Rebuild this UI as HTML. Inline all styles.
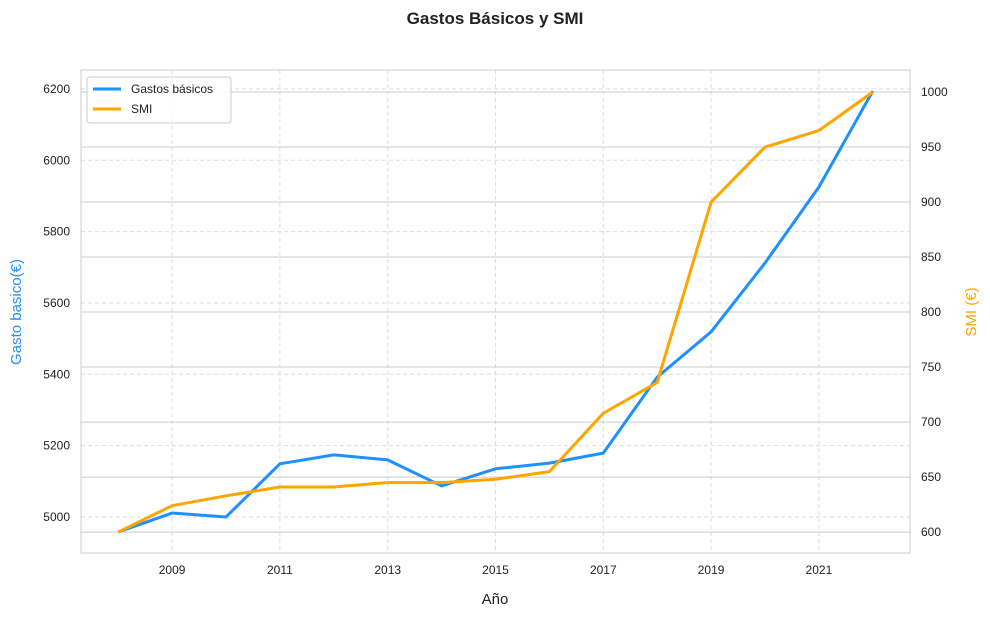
<!DOCTYPE html>
<html><head><meta charset="utf-8"><style>
body{margin:0;background:#fff;}
svg text{font-family:"Liberation Sans",Arial,sans-serif;}
</style></head><body>
<svg id="chart" width="990" height="617" xmlns="http://www.w3.org/2000/svg">
<text x="495" y="24" text-anchor="middle" font-size="17" font-weight="bold" fill="#222">Gastos Básicos y SMI</text>
<g id="grid"></g>
<g id="axes"></g>
<g id="lines"></g>
<rect x="81" y="70" width="829" height="483" fill="none" stroke="#ccc" stroke-width="1"/>
<text x="495" y="604" text-anchor="middle" font-size="15" fill="#222">Año</text>
<text transform="translate(21,312) rotate(-90)" text-anchor="middle" font-size="15" fill="#1e90ff">Gasto basico(€)</text>
<text transform="translate(976,312) rotate(-90)" text-anchor="middle" font-size="15" fill="#ffa500">SMI (€)</text>
<g>
<rect x="87" y="77" width="144" height="46" rx="3" fill="#fff" fill-opacity="0.85" stroke="#ccc"/>
<line x1="93" y1="89" x2="121" y2="89" stroke="#1e90ff" stroke-width="3"/>
<text x="131" y="93" font-size="12" fill="#222">Gastos básicos</text>
<line x1="93" y1="109" x2="121" y2="109" stroke="#ffa500" stroke-width="3"/>
<text x="131" y="113" font-size="12" fill="#222">SMI</text>
</g>
</svg>
<script>
const years=[2008,2009,2010,2011,2012,2013,2014,2015,2016,2017,2018,2019,2020,2021,2022];
const gastos=[4958,5011,5000,5149,5174,5160,5087,5135,5151,5179,5392,5519,5712,5925,6194];
const smi=[600,624,633,641,641,645,645,648,655,708,736,900,950,965,1000];
const xTicks=[2009,2011,2013,2015,2017,2019,2021];
const leftTicks=[5000,5200,5400,5600,5800,6000,6200];
const rightTicks=[600,650,700,750,800,850,900,950,1000];
const X0=81,X1=910,Y0=70,Y1=553;
const x=v=>X0+(v-2007.31)/(2022.69-2007.31)*(X1-X0);
const yl=v=>Y1-(v-4899)/(6253-4899)*(Y1-Y0);
const yr=v=>Y1-(v-581)/(1020-581)*(Y1-Y0);
const NS='http://www.w3.org/2000/svg';
function mk(t,a,p){const e=document.createElementNS(NS,t);for(const k in a)e.setAttribute(k,a[k]);p.appendChild(e);return e;}
const grid=document.getElementById('grid'),axes=document.getElementById('axes'),lines=document.getElementById('lines');
xTicks.forEach(v=>{
 const g=mk('line',{x1:x(v),x2:x(v),y1:Y0,y2:Y1,stroke:'#ddd','stroke-dasharray':'4,3'},grid);
 
 
 const t=mk('text',{x:x(v),y:Y1+21,'text-anchor':'middle','font-size':12,fill:'#222'},axes);t.textContent=v;
 
 
});
leftTicks.forEach(v=>{
 const g=mk('line',{x1:X0,x2:X1,y1:yl(v),y2:yl(v),stroke:'#ddd','stroke-dasharray':'4,3'},grid);
 
 
 const t=mk('text',{x:X0-11,y:yl(v)+4,'text-anchor':'end','font-size':12,fill:'#222'},axes);t.textContent=v;
 
 
});
rightTicks.forEach(v=>{
 const g=mk('line',{x1:X0,x2:X1,y1:yr(v),y2:yr(v),stroke:'#ccc'},grid);
 
 
 const t=mk('text',{x:X1+11,y:yr(v)+4,'text-anchor':'start','font-size':12,fill:'#222'},axes);t.textContent=v;
 
 
});
const p1=mk('polyline',{points:years.map((v,i)=>x(v)+','+yl(gastos[i])).join(' '),fill:'none',stroke:'#1e90ff','stroke-width':3,'stroke-linejoin':'round'},lines);


const p2=mk('polyline',{points:years.map((v,i)=>x(v)+','+yr(smi[i])).join(' '),fill:'none',stroke:'#ffa500','stroke-width':3,'stroke-linejoin':'round'},lines);


</script>
</body></html>
